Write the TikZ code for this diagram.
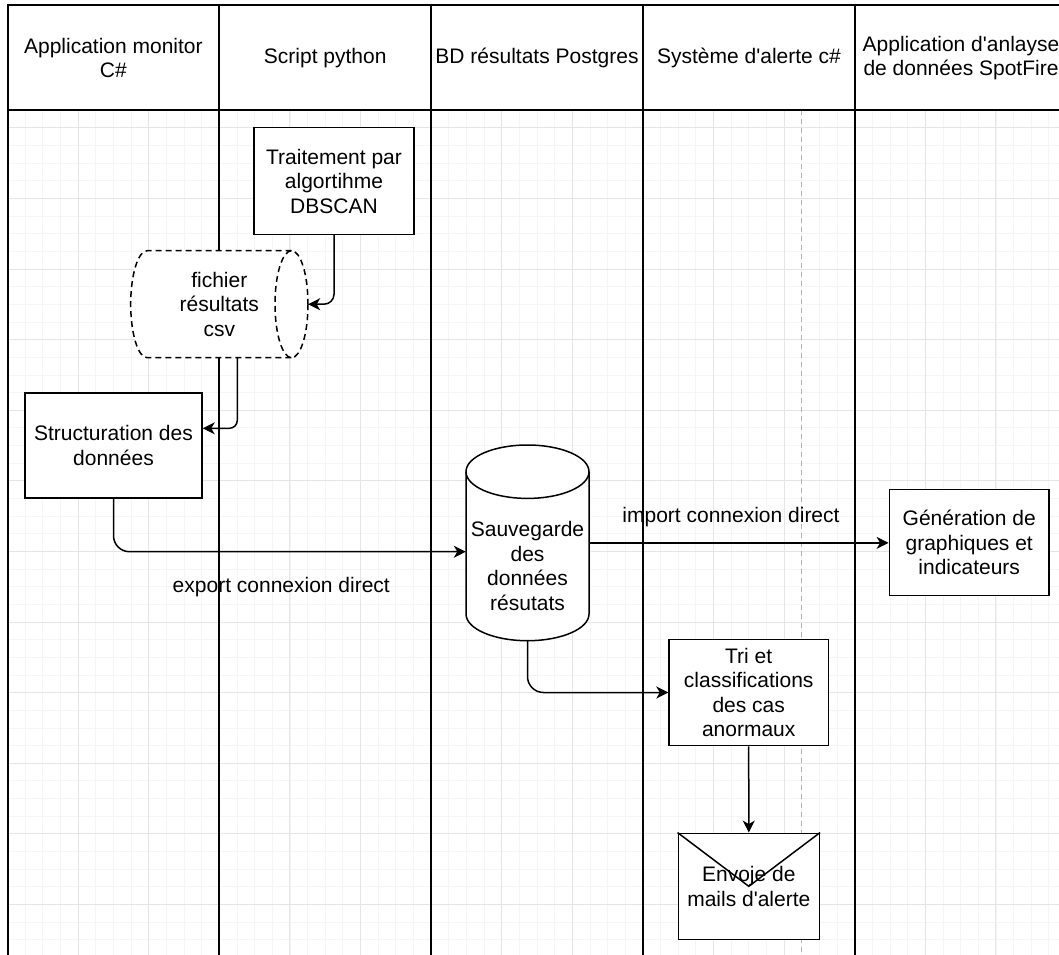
\documentclass[tikz,border=0pt]{standalone}
\usepackage{fontspec}
\setmainfont{Liberation Sans}[Ligatures=TeXOff]
\usetikzlibrary{arrows.meta,calc}
\newcommand\dtxt{\fontsize{21}{24.5}\selectfont}
\begin{document}
\begin{tikzpicture}[x=1pt,y=-1pt,
  minorgrid/.style={line width=0.8pt,black!4},
  majorgrid/.style={line width=0.9pt,black!10},
  lane/.style={line width=2pt,black},
  txt/.style={font=\dtxt,align=center,inner sep=0pt,text=black},
  shp/.style={line width=1.5pt,black},
  dsh/.style={line width=1.5pt,black,dash pattern=on 6pt off 4pt},
  box/.style={draw,line width=1.5pt,fill=white,txt},
  conn/.style={line width=1.5pt,black,-{Stealth[length=12pt,width=12pt,inset=3.5pt]}},
  lanedash/.style={line width=1pt,black!30,dash pattern=on 5pt off 4pt}]
\useasboundingbox (0,0) rectangle (1059,954);
\clip (0,0) rectangle (1059,954);
\fill[white] (0,0) rectangle (1059,954);
% grid
\begin{scope}
  \clip (7.5,110) rectangle (1059,954);
  \foreach \i in {0,...,60} \draw[minorgrid] ({7.5+17.65*\i},110) -- ++(0,850);
  \foreach \i in {0,...,49} \draw[minorgrid] (7.5,{110.15+17.65*\i}) -- ++(1060,0);
  \foreach \i in {0,...,15} \draw[majorgrid] ({7.5+70.6*\i},110) -- ++(0,850);
  \foreach \i in {0,...,12} \draw[majorgrid] (7.5,{127.8+70.6*\i}) -- ++(1060,0);
\end{scope}
% dashed guide in alert lane
\draw[lanedash] (801.6,110) -- (801.6,960);
% lanes
\draw[lane] (7.5,960) -- (7.5,4.7) -- (1070,4.7);
\draw[lane] (7.5,110) -- (1070,110);
\foreach \x in {219.3,431,643,855} \draw[lane] (\x,4.7) -- (\x,960);
% headers
\node[txt] (h1) at (113.4,58) {Application monitor\\C\#};
\node[txt] (h2) at (325.2,58) {Script python};
\node[txt] (h3) at (537,58) {BD résultats Postgres};
\node[txt] (h4) at (749,58) {Système d'alerte c\#};
\node[txt] (h5) at (961,58) {Application d'anlayse\\de données SpotFire};
% Traitement
\node[box,minimum width=160pt,minimum height=106.6pt] (trait) at (334,181) {Traitement par\\algortihme\\DBSCAN};
% csv cylinder (horizontal, dashed)
\fill[white] (291.5,250.7) -- (147.2,250.7) arc[start angle=270,end angle=90,x radius=16.5,y radius=53.5] -- (291.5,357.7) arc[start angle=90,end angle=-90,x radius=16.5,y radius=53.5] -- cycle;
\draw[dsh] (291.5,250.7) -- (147.2,250.7) arc[start angle=270,end angle=90,x radius=16.5,y radius=53.5] -- (291.5,357.7);
\draw[dsh] (291.5,304.2) ellipse[x radius=16.5,y radius=53.5];
\node[txt,minimum width=177.3pt,minimum height=107pt] (csv) at (219.3,304.2) {fichier\\résultats\\csv};
% Structuration
\node[box,minimum width=177pt,minimum height=105.3pt] (struct) at (113.5,445.4) {Structuration des\\données};
% DB cylinder
\fill[white] (466,471.7) -- (466,614) arc[start angle=180,end angle=0,x radius=61.5,y radius=26.7] -- (589,471.7) arc[start angle=0,end angle=-180,x radius=61.5,y radius=26.7] -- cycle;
\draw[shp] (466,471.7) -- (466,614) arc[start angle=180,end angle=0,x radius=61.5,y radius=26.7] -- (589,471.7);
\draw[shp] (527.5,471.7) ellipse[x radius=61.5,y radius=26.7];
\node[inner sep=0pt,minimum width=123pt,minimum height=195.7pt] (db) at (527.5,542.85) {};
\node[txt] (dbt) at (527.5,566) {Sauvegarde\\des\\données\\résutats};
% Generation
\node[box,minimum width=159.7pt,minimum height=106.4pt] (gen) at (969.2,542.5) {Génération de\\graphiques et\\indicateurs};
% Tri
\node[box,minimum width=159.3pt,minimum height=106.4pt] (tri) at (748.7,692.5) {Tri et\\classifications\\des cas\\anormaux};
% Mail
\node[box,minimum width=141pt,minimum height=106pt] (mail) at (748.8,886.3) {Envoje de\\mails d'alerte};
\draw[shp] (mail.north west) -- (mail.center) -- (mail.north east);
% connectors
\draw[conn,rounded corners=10pt] (trait.south) |- (csv.east);
\draw[conn,rounded corners=8pt] ($(csv.south)+(18,0)$) |- ($(struct.east)+(0,-17.1)$);
\draw[conn,rounded corners=16pt] (struct.south) |- ($(db.west)+(0,8.85)$);
\draw[conn] (db.east) -- (db.east -| gen.west);
\draw[conn,rounded corners=16pt] (db.south) |- (tri.west);
\draw[conn] (tri.south) -- (mail.north);
% labels
\node[txt] (lexp) at (281.3,587.3) {export connexion direct};
\node[txt] (limp) at (731,517.3) {import connexion direct};
\end{tikzpicture}
\end{document}
